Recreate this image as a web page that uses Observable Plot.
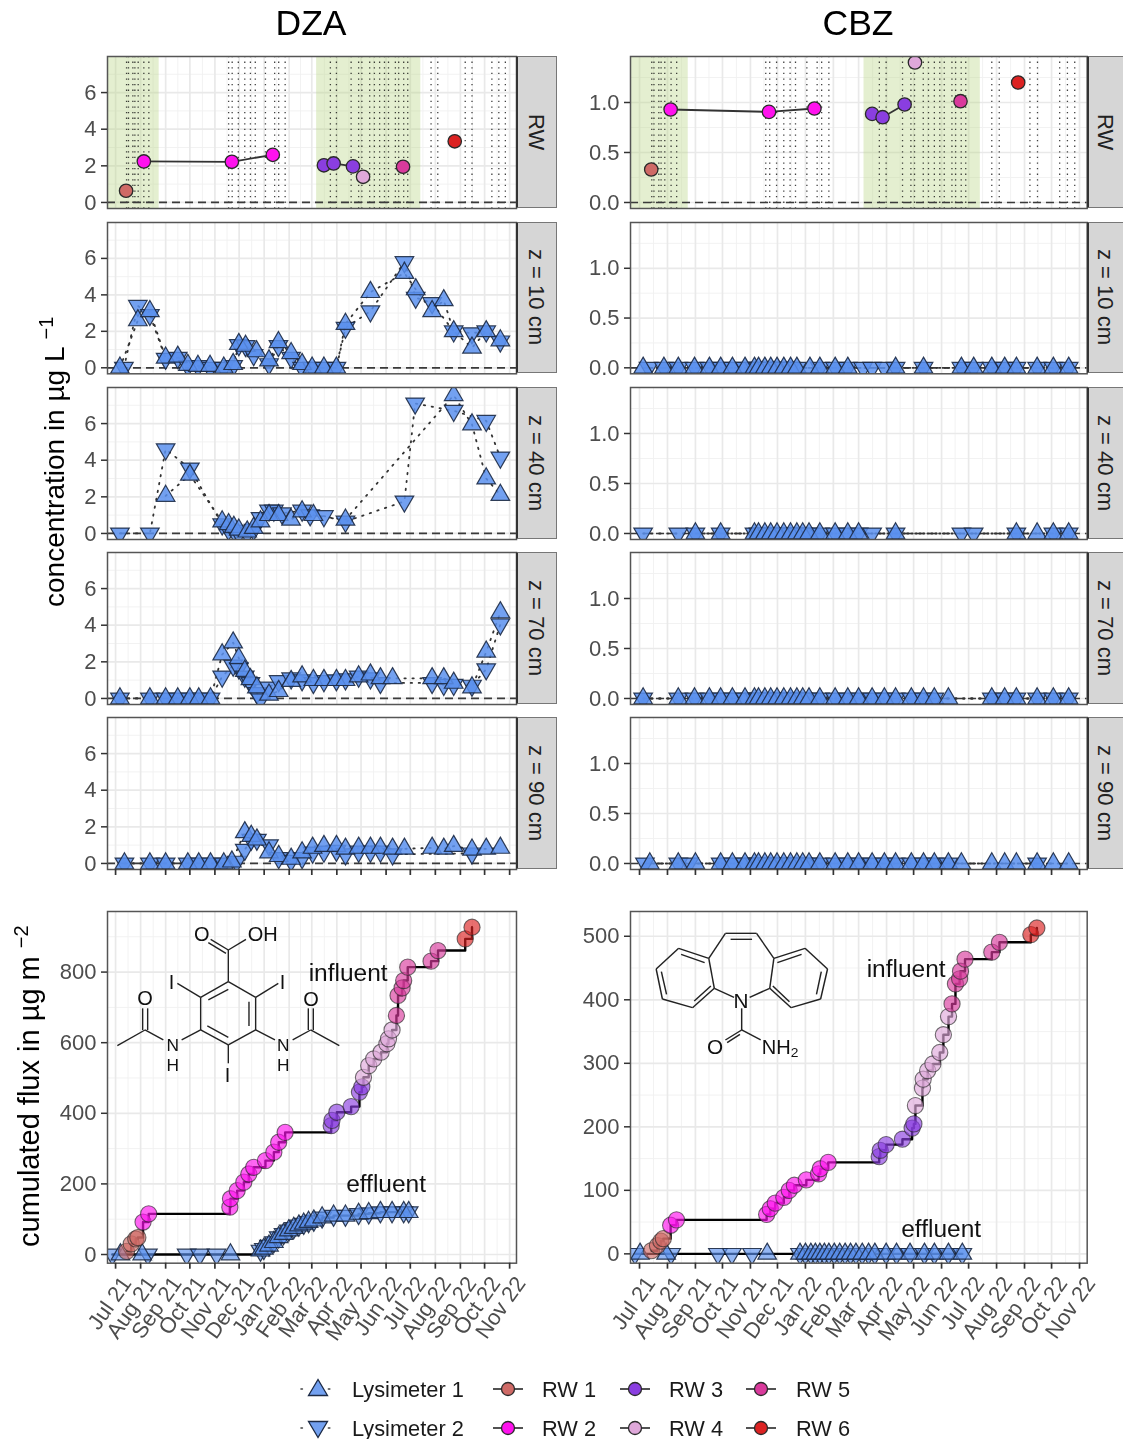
<!DOCTYPE html>
<html><head><meta charset="utf-8">
<script src="https://cdn.jsdelivr.net/npm/d3@7"></script>
<script src="https://cdn.jsdelivr.net/npm/@observablehq/plot@0.6"></script>
<style>
html,body{margin:0;padding:0;background:#fff;}
#page{position:relative;width:1123px;height:1439px;overflow:hidden;font-family:"Liberation Sans",Arial,sans-serif;filter:blur(.45px);}
#page>svg,#page>div{position:absolute;}
.strip{background:#d6d6d6;border:1px solid #777;border-left:2px solid #333;box-sizing:border-box;display:flex;align-items:center;justify-content:center;writing-mode:vertical-rl;font-size:22px;color:#222;padding-right:3px;}
</style></head><body><div id="page"></div>
<script>
// ---------- data (x = days after 1 Jul 2021) ----------
const monthTicks = ["2021-07-01","2021-08-01","2021-09-01","2021-10-01","2021-11-01","2021-12-01","2022-01-01","2022-02-01","2022-03-01","2022-04-01","2022-05-01","2022-06-01","2022-07-01","2022-08-01","2022-09-01","2022-10-01","2022-11-01"];
const samplingDays = [13.6,16,21.4,23.9,28,35,41.2,140,144.4,152,160,167,173,185.6,197,202,210,266,273.5,291.7,301,305,314.7,320.5,327,333,338,346.5,350.6,356.8,361.8,390.7,399,433,441.4,466,474.6,482.7];
const bands = [[-10,54],[249,378]];
const rowNames = ["RW","z = 10 cm","z = 40 cm","z = 70 cm","z = 90 cm"];

const dzaRW1=[[13,0.64]], dzaRW2=[[35,2.24],[144,2.22],[194.7,2.6]], dzaRW3=[[258,2.03],[270,2.13],[294,1.97]], dzaRW4=[[306.5,1.4]], dzaRW5=[[356,1.95]], dzaRW6=[[420,3.34]];
const cbzRW1=[[13,0.33]], cbzRW2=[[34.5,0.93],[143.6,0.906],[194,0.94]], cbzRW3=[[258,0.886],[269.6,0.853],[294,0.98]], cbzRW4=[[305.5,1.4]], cbzRW5=[[356,1.013]], cbzRW6=[[420,1.2]];

const dzaZ10L1=[[5.4,0],[27.6,2.6],[42.5,3.1],[62,0.55],[77,0.6],[89.5,0.15],[102,0.1],[117,0.1],[134,0],[145.6,0.2],[152.6,1.3],[161,1.2],[174.5,0.9],[190,0.4],[201.7,1.4],[217.4,0.8],[231,0.2],[243.4,0],[258,0],[273.5,0],[284.7,2.4],[315.6,4.15],[357.7,5.2],[371.7,4.3],[392,3.1],[406.4,3.7],[418.7,2],[441.4,1.1],[459,2],[476.5,1.5]];
const dzaZ10L2=[[10.3,0],[27.6,3.4],[42.5,2.9],[62,0.5],[77,0.55],[89.5,0.1],[102,0.1],[117,0],[134,0],[145.6,0.1],[152.6,1.25],[161,1.2],[171,0.7],[190,0.2],[201.7,1.2],[217.4,0.55],[231,0],[243.4,0],[258,0],[273.5,0],[284.7,2.2],[315.6,3.1],[357.7,5.8],[371.7,3.85],[392,3.55],[418.7,2],[441.4,1.9],[459,2],[476.5,1.45]];
const dzaZ40L1=[[62,2.05],[92,3.2],[132,0.65],[140,0.5],[146.5,0.35],[152.6,0.2],[163,0.1],[171,0.3],[179.5,0.65],[190,1],[202,1],[217.4,0.75],[231,1.2],[245,1],[284.7,0.75],[418.7,7.55],[441.4,5.95],[459,3],[476.5,2.1]];
const dzaZ40L2=[[5.4,0],[42.5,0],[62,4.6],[92,3.55],[132,0.5],[140,0.2],[146.5,0.15],[152.6,0],[163,0],[171,0.2],[179.5,0.85],[190,1.25],[196,1.25],[206,1.1],[231,1.25],[241,1],[258,0.95],[284.7,0.65],[357.7,1.75],[371,7.1],[418.7,6.7],[459,6.15],[476.5,4.15]];
const dzaZ70L1=[[5.4,0],[42.5,0],[62,0],[77,0],[92,0],[103,0],[117.6,0],[132,2.4],[145.6,3.05],[152.6,2.2],[160,1.5],[167,1.05],[175,0.6],[190,0.2],[202,0.4],[217.4,0.95],[231,1.2],[245,1],[258,1],[273.5,1],[284.7,1],[301,1.2],[315.6,1.3],[328,1.1],[343,1.1],[392,1.1],[406.4,1.1],[418.7,0.85],[441.4,0.6],[459,2.55],[476.5,4.7]];
const dzaZ70L2=[[5.4,0],[42.5,0],[62,0],[77,0],[92,0],[103,0],[117.6,0],[132,1.2],[145.6,1.8],[152.6,1.65],[160,1.2],[167,0.85],[175,0.3],[179.5,-0.05],[190,0.6],[202,0.95],[217.4,1.1],[231,1],[245,0.85],[258,0.95],[273.5,1],[284.7,1.05],[301,1.2],[315.6,1.1],[328,0.85],[392,0.85],[406.4,0.75],[418.7,0.75],[441.4,0.7],[459,1.6],[476.5,4.05]];
const dzaZ90L1=[[11,0],[42.5,0],[62,0],[89.5,0],[103,0],[117.6,0],[134,0],[144,0.1],[160,1.7],[168,1.5],[175,1.3],[190,0.6],[202,0.4],[217.4,0.25],[231,0.6],[244,0.85],[258,0.95],[273.5,0.95],[284.7,0.8],[301,0.85],[315.6,0.85],[328,0.85],[343,0.8],[357.7,0.8],[392,0.85],[406.4,0.8],[418.7,0.95],[441.4,0.75],[459,0.8],[476.5,0.85]];
const dzaZ90L2=[[11,0],[42.5,0],[62,0],[89.5,0],[103,0],[117.6,0],[134,0],[150,0.1],[160,0.75],[168,1.3],[175,1.3],[190,1],[202,0.3],[217.4,0.15],[231,0.3],[244,0.6],[258,0.65],[273.5,0.7],[284.7,0.5],[301,0.65],[315.6,0.65],[328,0.65],[343,0.5],[441.4,0.55]];

const cbzWeekly=[127.5,132,139,145.5,152.5,160,167.5,174.5,181,188];
const cbzZ10L1=[4,27,43,61,77.5,90,103,117,127.5,132,139,145.5,152.5,160,167.5,174.5,189,200,217,231,284,315,357,370.6,390.7,405,418,441,459,476];
const cbzZ10L2=[10,27,43,61,77.5,90,103,117,127.5,132,139,145.5,152.5,160,167.5,174.5,200,217,231,248,258,271.6,284,315,357,370.6,390.7,405,418,441,459,476];
const cbzZ40L1=[62,90,...cbzWeekly,200,217,231,243,284,418,441,459,476];
const cbzZ40L2=[4,43,62,90,...cbzWeekly,200,217,231,243,258,284,357,370.6,418,459,476];
const cbzZ70L1=[4,43,61,77.5,90,103,117,...cbzWeekly,200,217,231,243,258,271.6,284,301.5,315,327,342.6,390.7,405,418,441,459,476];
const cbzZ70L2=[4,43,61,77.5,90,103,117,...cbzWeekly,200,217,231,243,258,271.6,284,301.5,315,327,390.7,405,418,441,459,476];
const cbzZ90L1=[11.4,43,62,90,103,117,...cbzWeekly,200,217,231,243,258,271.6,284,301.5,315,327,342.6,357,390.7,405,418,441,459,476];
const cbzZ90L2=[6,43,55,90,103,117,...cbzWeekly,200,217,231,243,258,271.6,284,301.5,315,327,342.6,441];

const cumDzaRW1=[[13.6,9],[19.4,30],[25,44],[27.6,48]], cumDzaRW2=[[34,92],[41,115],[141.5,134],[142.3,158],[150.6,181],[158.8,205],[165,228],[171,247],[185.6,266],[196,290],[202,318],[210,346]], cumDzaRW3=[[267,365],[268,380],[274,403],[291.7,419],[302,460],[305,475]], cumDzaRW4=[[307,502],[313.5,535],[319.7,554],[328.8,573],[336,597],[338,611],[342.4,636]], cumDzaRW5=[[347.8,677],[349.8,734],[354.8,755],[356.8,776],[361.8,814],[390.7,831],[399.3,861]], cumDzaRW6=[[433,894],[441.4,927]];
const cumDzaL1=[[6,0],[33,0],[142.3,0],[179.5,11],[183.6,16],[190,25],[196,35],[202,49],[208,58],[214.5,68],[220.7,75],[227,82],[233,87],[239,92],[245.5,96],[255.8,105],[270,110],[284.7,110],[301,115],[313.5,117],[328,120],[342.4,120],[356.8,120],[363,120]];
const cumDzaL2=[[-4,0],[40,0],[88,0],[104.4,0],[125,0],[179.5,11],[183.6,16],[190,25],[196,35],[202,49],[208,58],[214.5,68],[220.7,75],[227,82],[233,87],[239,92],[245.5,96],[255.8,105],[270,110],[284.7,110],[301,115],[313.5,117],[328,120],[342.4,120],[356.8,120],[363,120]];
const cumCbzRW1=[[13.3,5],[19.9,13],[23.7,20],[26.4,24]], cumCbzRW2=[[34.5,45],[41,53.5],[141,62],[145,71],[150.5,80],[160,89],[166,100],[171.7,108],[185,116.5],[198.6,126],[200.5,134],[209.3,144]], cumCbzRW3=[[265.8,153],[267,163],[273.5,172],[291.6,180.5],[302.3,198],[304.3,204.6]], cumCbzRW4=[[306,233.5],[313.8,261],[314.6,275],[319.6,288.6],[325.4,299],[333,317],[337,345],[342.7,373.5]], cumCbzRW5=[[346.6,393.5],[350.4,425],[355,433],[356,445],[361,464],[390.7,475],[399.2,490.5]], cumCbzRW6=[[434,502.6],[440.7,513]];
const cumCbzL1=[0.6,29.5,141.6,178,184,190,195,200,205,210,216,222,228,234,240,247,254,261,273.5,285,300,316,327,342.6,358];
const cumCbzL2=[-5,35,87,102.5,124.8,178,184,190,195,200,205,210,216,222,228,234,240,247,254,261,273.5,285,300,316,327,342.6,358];

const rwColors=["#cf6a66","#ff12ee","#8a3ee0","#dfa8da","#d93a9c","#dc2222"];
const lysColor="#5a90ee", edge="#1c2a45";
// ---------------------------------------------------------------------------
const page=document.getElementById("page");
const t0=Date.UTC(2021,6,1), D=d=>new Date(t0+d*864e5);
const pairs=a=>a.map(([d,v])=>({x:D(d),y:v}));
const zeros=a=>a.map(d=>({x:D(d),y:0}));
const monthDates=monthTicks.map(s=>new Date(s+"T00:00:00Z"));
const monthMinor=d3.pairs(monthDates).map(([a,b])=>new Date((+a + +b)/2));
const down={draw(c,s){const y=Math.sqrt(s/(Math.sqrt(3)*3));c.moveTo(0,y*2);c.lineTo(-Math.sqrt(3)*y,-y);c.lineTo(Math.sqrt(3)*y,-y);c.closePath();}};
const up="triangle";

function lys(d,sym,fo){return Plot.dot(d,{x:"x",y:"y",symbol:sym,r:6.9,fill:lysColor,fillOpacity:fo,stroke:edge,strokeWidth:1.2,strokeOpacity:.9,clip:"frame"});}
function dotLine(d){return Plot.line(d,{x:"x",y:"y",stroke:"#333",strokeWidth:1.8,strokeDasharray:"1.4 6.6",strokeLinecap:"round",clip:"frame"});}

function panel({left,top,w,h,yDomain,yTicks,yMinor,yFormat,marks,xAxis}){
  const mb=xAxis==="labels"?95:(xAxis==="ticks"?12:2), ml=72, mt=2;
  const axes=[Plot.axisY(yTicks,{anchor:"left",tickSize:6,tickPadding:5,fontSize:22,label:null,tickFormat:yFormat,stroke:"#333",strokeWidth:1.5,fill:"#4d4d4d"})];
  if(xAxis!=="none") axes.push(Plot.axisX(monthDates,{anchor:"bottom",tickSize:6,tickFormat:()=>"",label:null,stroke:"#333",strokeWidth:1.7}));
  if(xAxis==="labels") axes.push(Plot.axisX(monthDates,{anchor:"bottom",tickSize:0,tickPadding:16,tickRotate:-55,fontSize:22,dx:11,tickFormat:d3.utcFormat("%b %y"),label:null,fill:"#4d4d4d"}));
  const svg=Plot.plot({width:w+ml+2,height:h+mt+mb,marginLeft:ml,marginRight:2,marginTop:mt,marginBottom:mb,
    style:{background:"transparent",fontFamily:"Liberation Sans, Arial, sans-serif",overflow:"visible"},
    x:{type:"utc",domain:[D(-10),D(496.5)],axis:null},
    y:{domain:yDomain,axis:null},
    marks:[
      Plot.ruleY(yMinor,{stroke:"#f0f0f0",strokeWidth:.9}),
      Plot.ruleX(monthMinor,{stroke:"#f0f0f0",strokeWidth:.9}),
      Plot.ruleY(yTicks,{stroke:"#e9e9e9",strokeWidth:1.7}),
      Plot.ruleX(monthDates,{stroke:"#e9e9e9",strokeWidth:1.7}),
      ...marks,
      Plot.frame({stroke:"#555",strokeWidth:1.5}),
      ...axes
    ]});
  svg.style.left=(left-ml)+"px"; svg.style.top=(top-mt)+"px";
  page.appendChild(svg);
}
function strip(left,top,w,h,text){
  const s=document.createElement("div"); s.className="strip"; s.textContent=text;
  s.style.cssText+=`left:${left}px;top:${top}px;width:${w}px;height:${h}px;`; page.appendChild(s);
}
const bandMark=()=>Plot.rectX(bands,{x1:b=>D(b[0]),x2:b=>D(b[1]),fill:"#b4d27c",fillOpacity:.36});
const samplingMark=()=>Plot.ruleX(samplingDays.map(D),{stroke:"#111",strokeWidth:1.3,strokeOpacity:.8,strokeDasharray:"1.3 4.3"});
const zeroMark=()=>Plot.ruleY([0],{stroke:"#3a3a3a",strokeWidth:1.7,strokeDasharray:"8 5"});

function rwMarks(groups){
  const out=[bandMark(),samplingMark(),zeroMark()];
  groups.forEach((g,i)=>{const d=pairs(g);
    out.push(Plot.line(d,{x:"x",y:"y",stroke:"#333",strokeWidth:1.8}));
    out.push(Plot.dot(d,{x:"x",y:"y",r:6.7,fill:rwColors[i],stroke:"#2a2a2a",strokeWidth:1.3,clip:"frame"}));
  });
  return out;
}
function lysMarks(l1,l2){
  return [zeroMark(),dotLine(l2),dotLine(l1),lys(l2,down,.85),lys(l1,up,.85)];
}
function cumMarks(groups,l1,l2,labels){
  const all=groups.flatMap(pairs);
  const out=[Plot.line(all,{x:"x",y:"y",curve:"step-after",stroke:"#000",strokeWidth:2.4}),
             Plot.line(l2,{x:"x",y:"y",curve:"step-after",stroke:"#000",strokeWidth:2.4})];
  out.push(lys(l2,down,.65),lys(l1,up,.65));
  groups.forEach((g,i)=>out.push(Plot.dot(pairs(g),{x:"x",y:"y",r:8.1,fill:rwColors[i],fillOpacity:.65,stroke:"#2a2a2a",strokeOpacity:.65,strokeWidth:1.1,clip:"frame"})));
  out.push(Plot.text(labels,{x:d=>D(d[0]),y:d=>d[1],text:d=>d[2],fontSize:24.5,fill:"#111"}));
  return out;
}

const tops=[[56,152],[221.7,151.3],[386.7,152],[552,152],[717.3,152]];
const cols=[
 {left:107,w:409,stripL:516,stripW:41,ticks:[0,2,4,6],minor:[1,3,5,7],domain:[-.33,7.97],fmt:d3.format("d")},
 {left:630.3,w:456.7,stripL:1087,stripW:38,ticks:[0,.5,1],minor:[.25,.75,1.25],domain:[-.06,1.46],fmt:d3.format(".1f")}
];
const rows=[
 [rwMarks([dzaRW1,dzaRW2,dzaRW3,dzaRW4,dzaRW5,dzaRW6]),lysMarks(pairs(dzaZ10L1),pairs(dzaZ10L2)),lysMarks(pairs(dzaZ40L1),pairs(dzaZ40L2)),lysMarks(pairs(dzaZ70L1),pairs(dzaZ70L2)),lysMarks(pairs(dzaZ90L1),pairs(dzaZ90L2))],
 [rwMarks([cbzRW1,cbzRW2,cbzRW3,cbzRW4,cbzRW5,cbzRW6]),lysMarks(zeros(cbzZ10L1),zeros(cbzZ10L2)),lysMarks(zeros(cbzZ40L1),zeros(cbzZ40L2)),lysMarks(zeros(cbzZ70L1),zeros(cbzZ70L2)),lysMarks(zeros(cbzZ90L1),zeros(cbzZ90L2))]
];
cols.forEach((c,ci)=>{
  tops.forEach(([top,h],ri)=>{
    panel({left:c.left,top,w:c.w,h,yDomain:c.domain,yTicks:c.ticks,yMinor:c.minor,yFormat:c.fmt,marks:rows[ci][ri],xAxis:ri===4?"ticks":"none"});
    strip(c.stripL,top,c.stripW,h,rowNames[ri]);
  });
});
panel({left:107,top:911,w:409,h:351.7,yDomain:[-24.6,971.6],yTicks:[0,200,400,600,800],yMinor:[100,300,500,700,900],yFormat:d3.format("d"),xAxis:"labels",
  marks:cumMarks([cumDzaRW1,cumDzaRW2,cumDzaRW3,cumDzaRW4,cumDzaRW5,cumDzaRW6],pairs(cumDzaL1),pairs(cumDzaL2),[[288,796,"influent"],[335,198,"effluent"]])});
panel({left:630.3,top:911,w:456.7,h:351.7,yDomain:[-14.7,539],yTicks:[0,100,200,300,400,500],yMinor:[50,150,250,350,450],yFormat:d3.format("d"),xAxis:"labels",
  marks:cumMarks([cumCbzRW1,cumCbzRW2,cumCbzRW3,cumCbzRW4,cumCbzRW5,cumCbzRW6],zeros(cumCbzL1),zeros(cumCbzL2),[[295.7,449,"influent"],[334.5,38.5,"effluent"]])});

// ---------- overlay: titles, axis titles, chemical structures, legend ----------
const seg=a=>a.map(([x1,y1,x2,y2])=>`<line x1="${x1}" y1="${y1}" x2="${x2}" y2="${y2}"/>`).join("");
const lab=a=>a.map(([x,y,t,fs])=>`<text x="${x}" y="${y}" font-size="${fs||60}" text-anchor="middle" dominant-baseline="central">${t}</text>`).join("");
const dzaBonds=[[505,245,587,292],[587,292,587,390],[587,390,505,435],[505,435,422,390],[422,390,422,292],[422,292,505,245],[445,300,505,268],[567,305,567,378],[442,378,505,412],[505,245,505,150],[505,150,452,118],[498,160,445,128],[505,150,558,118],[422,292,352,250],[587,292,655,250],[505,435,505,490],[422,390,365,420],[310,420,255,390],[248,390,248,325],[263,390,263,325],[255,390,172,437],[587,390,645,420],[698,420,752,390],[745,390,745,325],[760,390,760,325],[752,390,838,437]];
const dzaAtoms=[[425,103,"O"],[608,103,"OH"],[335,245,"I"],[668,245,"I"],[503,525,"I"],[255,295,"O"],[753,297,"O"],[338,435,"N",52],[338,495,"H",52],[670,435,"N",52],[670,495,"H",52]];
const cbzBonds=[[420,100,510,100],[420,100,372,175],[510,100,560,175],[372,175,285,145],[285,145,220,207],[220,207,238,297],[238,297,325,323],[325,323,388,265],[388,265,372,175],[560,175,650,145],[650,145,715,207],[715,207,695,297],[695,297,610,323],[610,323,548,265],[548,265,560,175],[435,118,497,118],[360,188,292,163],[235,215,250,283],[330,303,378,258],[570,188,640,163],[697,215,683,283],[605,305,557,258],[388,265,445,292],[548,265,490,292],[467,325,467,390],[467,390,420,420],[462,403,425,428],[467,390,522,420]];
const cbzAtoms=[[465,302,"N"],[390,440,"O"]];

const keyRows=[1389,1428];
function tri(cx,cy,flip){const s=flip?-1:1;return `<path d="M${cx},${cy-9.5*s}L${cx-9.5},${cy+6.5*s}L${cx+9.5},${cy+6.5*s}Z" fill="${lysColor}" fill-opacity=".85" stroke="${edge}" stroke-width="1.3"/><line x1="${cx-17}" x2="${cx+17}" y1="${cy}" y2="${cy}" stroke="#444" stroke-width="1.6" stroke-dasharray="1.4 26" stroke-linecap="round"/>`;}
function rwKey(cx,cy,col){return `<line x1="${cx-15}" x2="${cx+15}" y1="${cy}" y2="${cy}" stroke="#333" stroke-width="1.7"/><circle cx="${cx}" cy="${cy}" r="6.5" fill="${col}" stroke="#2a2a2a" stroke-width="1.3"/>`;}
const keyText=(x,y,t)=>`<text x="${x}" y="${y}" font-size="21.8" dominant-baseline="central" fill="#1a1a1a">${t}</text>`;
const legend=[
  tri(318,keyRows[0],false),keyText(352,keyRows[0],"Lysimeter 1"),
  tri(318,keyRows[1],true),keyText(352,keyRows[1],"Lysimeter 2"),
  rwKey(508,keyRows[0],rwColors[0]),keyText(542,keyRows[0],"RW 1"),
  rwKey(508,keyRows[1],rwColors[1]),keyText(542,keyRows[1],"RW 2"),
  rwKey(635,keyRows[0],rwColors[2]),keyText(669,keyRows[0],"RW 3"),
  rwKey(635,keyRows[1],rwColors[3]),keyText(669,keyRows[1],"RW 4"),
  rwKey(761,keyRows[0],rwColors[4]),keyText(796,keyRows[0],"RW 5"),
  rwKey(761,keyRows[1],rwColors[5]),keyText(796,keyRows[1],"RW 6")
].join("");
const overlay=document.createElement("div");
overlay.style.cssText="left:0;top:0;width:1123px;height:1439px;pointer-events:none;";
overlay.innerHTML=`<svg width="1123" height="1439" style="font-family:'Liberation Sans',Arial,sans-serif;display:block">
<text x="311" y="35" font-size="35.5" text-anchor="middle" fill="#000">DZA</text>
<text x="858" y="35" font-size="35.5" text-anchor="middle" fill="#000">CBZ</text>
<text transform="translate(64,607) rotate(-90)" font-size="28" fill="#000">concentration in µg L<tspan dx="7" dy="-11" font-size="20">−1</tspan></text>
<text transform="translate(39,1247) rotate(-90)" font-size="29" fill="#000">cumulated flux in µg m<tspan dx="8" dy="-11" font-size="20">−2</tspan></text>
<g transform="translate(60,900) scale(.3333)" stroke="#222" stroke-width="4.2" fill="none">${seg(dzaBonds)}</g>
<g transform="translate(60,900) scale(.3333)" fill="#111">${lab(dzaAtoms)}</g>
<g transform="translate(580,900) scale(.3462,.3333)" stroke="#222" stroke-width="4.2" fill="none">${seg(cbzBonds)}</g>
<g transform="translate(580,900) scale(.3462,.3333)" fill="#111">${lab(cbzAtoms)}<text x="525" y="440" font-size="58" dominant-baseline="central">NH<tspan dy="16" font-size="40">2</tspan></text></g>
${legend}
</svg>`;
page.appendChild(overlay);
</script></body></html>
